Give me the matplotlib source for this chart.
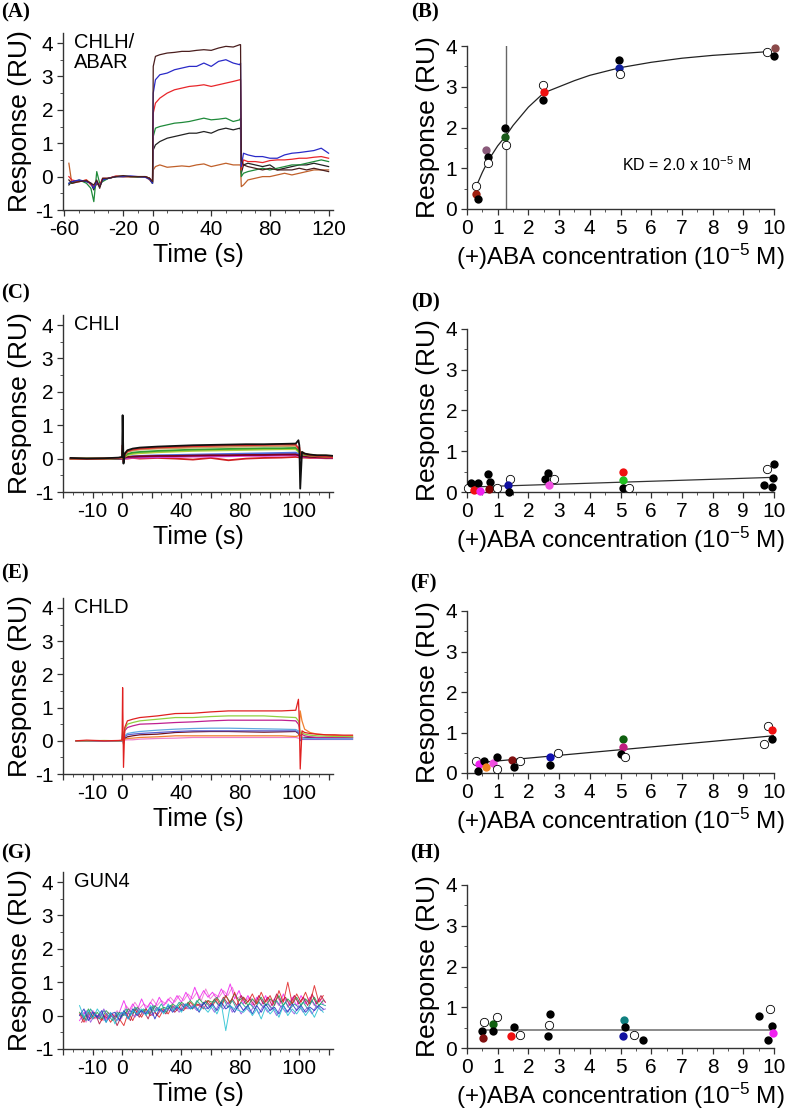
import numpy as np
import matplotlib
matplotlib.use("Agg")
import matplotlib.pyplot as plt
from matplotlib.ticker import FixedLocator, MultipleLocator

plt.rcParams['font.family'] = ['Liberation Sans', 'DejaVu Sans']
plt.rcParams['axes.unicode_minus'] = False
plt.rcParams['mathtext.fontset'] = 'custom'
plt.rcParams['mathtext.rm'] = 'Liberation Sans'
plt.rcParams['mathtext.it'] = 'Liberation Sans:italic'
plt.rcParams['mathtext.bf'] = 'Liberation Sans:bold'

# ---------------- Sensorgrams (left column) ----------------
# (A) CHLH/ABAR
tA = [-57, -55, -50, -45, -42, -40, -38, -36, -34, -30, -25, -20, -15, -10, -5, -2, 0,
      0.5, 2, 5, 10, 15, 20, 25, 30, 35, 40, 45, 50, 55, 59.5, 60,
      60.5, 62, 65, 70, 75, 80, 85, 90, 95, 100, 105, 110, 115, 120]
A_brown = [-0.1, -0.2, -0.15, -0.12, -0.2, -0.25, -0.1, -0.35, -0.05, -0.05, 0.0, 0.03, 0.0, 0.0, 0.0, -0.05, -0.15,
           3.3, 3.6, 3.65, 3.7, 3.72, 3.75, 3.75, 3.78, 3.8, 3.78, 3.85, 3.9, 3.88, 3.95, 3.95,
           0.5, 0.35, 0.3, 0.25, 0.2, 0.25, 0.2, 0.2, 0.2, 0.25, 0.2, 0.25, 0.2, 0.15]
A_blue = [-0.2, -0.15, -0.1, -0.15, -0.2, -0.35, -0.15, -0.3, -0.1, -0.05, 0.0, 0.0, 0.02, 0.0, -0.02, -0.08, -0.2,
          2.5, 2.9, 3.05, 3.1, 3.2, 3.25, 3.3, 3.3, 3.4, 3.3, 3.45, 3.5, 3.4, 3.35, 3.4,
          0.3, 0.7, 0.65, 0.6, 0.6, 0.55, 0.55, 0.65, 0.7, 0.72, 0.75, 0.78, 0.85, 0.7]
A_red = [0.0, -0.1, -0.15, -0.1, -0.25, -0.3, -0.2, -0.25, -0.05, -0.05, 0.02, 0.0, 0.0, 0.0, 0.0, -0.05, -0.15,
         1.9, 2.2, 2.35, 2.5, 2.6, 2.65, 2.7, 2.72, 2.75, 2.7, 2.75, 2.8, 2.85, 2.9, 2.9,
         0.2, 0.5, 0.45, 0.45, 0.42, 0.48, 0.5, 0.5, 0.52, 0.55, 0.55, 0.58, 0.6, 0.55]
A_green = [-0.2, -0.2, -0.1, -0.2, -0.35, -0.75, 0.15, -0.2, -0.15, -0.05, 0.0, 0.02, 0.0, -0.02, 0.0, -0.05, -0.2,
           1.2, 1.45, 1.5, 1.55, 1.6, 1.62, 1.65, 1.7, 1.75, 1.7, 1.72, 1.75, 1.65, 1.7, 1.75,
           0.0, 0.1, 0.15, 0.2, 0.25, 0.2, 0.25, 0.3, 0.35, 0.35, 0.4, 0.45, 0.5, 0.45]
A_black = [-0.25, -0.15, -0.12, -0.15, -0.2, -0.4, -0.2, -0.3, -0.1, -0.05, 0.0, 0.0, 0.0, 0.0, 0.0, -0.05, -0.2,
           0.8, 0.95, 1.05, 1.15, 1.2, 1.25, 1.3, 1.3, 1.35, 1.3, 1.4, 1.45, 1.4, 1.45, 1.4,
           0.1, 0.35, 0.4, 0.35, 0.3, 0.35, 0.2, 0.25, 0.3, 0.35, 0.35, 0.4, 0.35, 0.3]
A_orange = [0.4, -0.2, -0.15, -0.1, -0.2, -0.3, -0.15, -0.25, -0.1, -0.05, 0.0, 0.0, 0.0, 0.0, 0.0, -0.1, -0.2,
            0.2, 0.3, 0.35, 0.28, 0.3, 0.32, 0.3, 0.35, 0.38, 0.3, 0.35, 0.4, 0.35, 0.35, 0.35,
            -0.3, -0.25, -0.1, -0.05, 0.0, 0.0, 0.05, 0.1, 0.05, 0.1, 0.15, 0.2, 0.2, 0.2]
A_traces = [(A_orange, '#c0602a'), (A_black, '#222222'), (A_green, '#1f8a3a'),
            (A_red, '#e8262a'), (A_blue, '#2a2ac8'), (A_brown, '#4a1e1e')]

# (C) CHLI
tC = [-29, -20, -10, -2, 0, 0.3, 0.8, 1.5, 3, 6, 10, 20, 30, 40, 50, 60, 70, 80, 90, 98,
      99.5, 100, 100.5, 101.5, 103, 106, 110, 115, 119.5]
C_black = [0.02, 0.0, 0.01, 0.03, 0.05, 1.3, -0.15, 0.15, 0.25, 0.3, 0.33, 0.36, 0.38, 0.4, 0.41, 0.42, 0.43, 0.43, 0.44, 0.45,
           0.55, 0.4, -0.9, 0.2, 0.15, 0.12, 0.1, 0.1, 0.08]
C_red = [0.0, -0.01, 0.0, 0.02, 0.03, 0.4, -0.1, 0.12, 0.22, 0.27, 0.3, 0.33, 0.35, 0.37, 0.38, 0.4, 0.4, 0.41, 0.42, 0.42,
         0.3, 0.35, 0.1, 0.18, 0.14, 0.1, 0.08, 0.06, 0.04]
C_tan = [0.01, 0.0, 0.0, 0.02, 0.03, 0.3, 0.0, 0.1, 0.2, 0.24, 0.27, 0.3, 0.31, 0.33, 0.34, 0.35, 0.36, 0.37, 0.37, 0.38,
         0.3, 0.3, 0.15, 0.2, 0.15, 0.12, 0.1, 0.09, 0.08]
C_green = [0.0, 0.0, 0.0, 0.01, 0.02, 0.25, 0.0, 0.08, 0.14, 0.18, 0.2, 0.23, 0.25, 0.27, 0.28, 0.29, 0.3, 0.31, 0.31, 0.32,
           0.25, 0.25, 0.12, 0.16, 0.12, 0.1, 0.08, 0.07, 0.06]
C_lime = [0.0, 0.0, 0.0, 0.01, 0.02, 0.2, 0.0, 0.06, 0.1, 0.14, 0.16, 0.19, 0.21, 0.23, 0.24, 0.25, 0.26, 0.27, 0.28, 0.28,
          0.2, 0.22, 0.1, 0.14, 0.11, 0.09, 0.07, 0.06, 0.05]
C_blue = [0.0, -0.01, 0.0, 0.0, 0.01, 0.15, -0.05, 0.03, 0.05, 0.07, 0.08, 0.1, 0.11, 0.12, 0.13, 0.14, 0.15, 0.16, 0.17, 0.18,
          0.15, 0.15, 0.05, 0.1, 0.09, 0.07, 0.06, 0.05, 0.05]
C_purple = [0.0, 0.0, -0.01, 0.0, 0.0, 0.1, -0.05, 0.02, 0.04, 0.05, 0.06, 0.07, 0.08, 0.09, 0.1, 0.1, 0.11, 0.12, 0.13, 0.14,
            0.12, 0.12, 0.03, 0.08, 0.07, 0.06, 0.05, 0.04, 0.04]
C_magenta = [0.0, 0.0, 0.0, 0.0, 0.0, 0.08, -0.05, 0.0, 0.02, 0.03, 0.03, 0.04, 0.05, 0.06, 0.06, 0.07, 0.08, 0.08, 0.09, 0.1,
             0.08, 0.08, 0.0, 0.05, 0.05, 0.04, 0.03, 0.03, 0.02]
C_darkred = [0.0, 0.0, 0.0, 0.0, 0.01, 0.1, -0.02, 0.03, 0.05, 0.06, 0.07, 0.08, 0.08, 0.09, 0.1, 0.1, 0.11, 0.11, 0.12, 0.12,
             0.1, 0.1, 0.02, 0.07, 0.06, 0.05, 0.04, 0.03, 0.03]
C_red2 = [0.0, 0.0, 0.0, 0.0, 0.0, 0.05, -0.03, 0.0, 0.0, 0.02, 0.0, 0.02, 0.0, -0.03, 0.02, -0.05, 0.0, 0.02, 0.03, 0.05,
          0.04, 0.04, 0.0, 0.03, 0.03, 0.02, 0.02, 0.01, 0.01]
C_traces = [(C_red2, '#d02020'), (C_magenta, '#e040e0'), (C_purple, '#7030a0'), (C_blue, '#5070e0'),
            (C_darkred, '#800020'), (C_lime, '#b0d040'), (C_green, '#30a030'), (C_tan, '#c8a060'),
            (C_red, '#e03030'), (C_black, '#111111')]

# (E) CHLD
tE = [-26, -20, -10, -2, 0, 0.3, 0.8, 1.5, 3, 6, 10, 20, 30, 40, 50, 60, 70, 80, 90, 98,
      99.5, 100, 100.5, 101.5, 103, 106, 110, 115, 120, 125, 130]
E_red = [0.0, 0.02, 0.0, 0.01, 0.02, 1.6, -0.8, 0.4, 0.6, 0.65, 0.7, 0.75, 0.82, 0.83, 0.87, 0.9, 0.9, 0.9, 0.9, 0.92,
         1.25, 0.6, -0.85, 0.3, 0.25, 0.22, 0.2, 0.18, 0.18, 0.17, 0.17]
E_green = [0.0, 0.0, 0.01, 0.0, 0.01, 0.3, -0.1, 0.35, 0.5, 0.55, 0.6, 0.65, 0.7, 0.7, 0.73, 0.75, 0.75, 0.75, 0.72, 0.7,
           0.6, 0.5, 0.2, 0.25, 0.2, 0.17, 0.15, 0.14, 0.13, 0.13, 0.12]
E_magenta = [0.0, 0.0, 0.0, 0.0, 0.01, 0.25, -0.1, 0.3, 0.4, 0.45, 0.5, 0.52, 0.55, 0.57, 0.6, 0.62, 0.62, 0.62, 0.62, 0.6,
             0.5, 0.4, 0.15, 0.2, 0.15, 0.12, 0.1, 0.1, 0.1, 0.1, 0.1]
E_lblue = [0.0, 0.0, 0.0, 0.0, 0.0, 0.2, -0.05, 0.15, 0.22, 0.25, 0.28, 0.32, 0.35, 0.37, 0.38, 0.38, 0.37, 0.36, 0.35, 0.34,
           0.3, 0.25, 0.05, 0.1, 0.08, 0.07, 0.07, 0.06, 0.06, 0.06, 0.06]
E_blue = [0.0, 0.0, 0.0, 0.0, 0.0, 0.15, -0.05, 0.12, 0.18, 0.2, 0.22, 0.25, 0.28, 0.3, 0.3, 0.3, 0.3, 0.3, 0.3, 0.3,
          0.25, 0.2, 0.0, 0.05, 0.05, 0.05, 0.05, 0.05, 0.05, 0.05, 0.05]
E_darkred = [0.0, 0.0, 0.0, 0.0, 0.0, 0.1, -0.05, 0.08, 0.12, 0.15, 0.18, 0.2, 0.25, 0.27, 0.28, 0.28, 0.27, 0.26, 0.27, 0.28,
             0.22, 0.2, 0.05, 0.1, 0.1, 0.1, 0.1, 0.1, 0.1, 0.1, 0.1]
E_orange = [0.0, 0.0, 0.0, 0.0, 0.0, 0.1, 0.0, 0.05, 0.07, 0.08, 0.1, 0.12, 0.15, 0.15, 0.15, 0.15, 0.15, 0.15, 0.15, 0.13,
            0.15, 0.3, 0.9, 0.6, 0.35, 0.25, 0.2, 0.18, 0.16, 0.15, 0.15]
E_pink = [0.0, 0.0, 0.0, 0.0, 0.0, 0.05, 0.0, 0.02, 0.03, 0.03, 0.05, 0.07, 0.08, 0.1, 0.1, 0.1, 0.1, 0.1, 0.1, 0.1,
          0.08, 0.07, 0.02, 0.04, 0.04, 0.04, 0.04, 0.04, 0.04, 0.04, 0.04]
E_traces = [(E_pink, '#f080c8'), (E_orange, '#f08030'), (E_darkred, '#701020'), (E_blue, '#6060d0'),
            (E_lblue, '#60a8e0'), (E_magenta, '#c02090'), (E_green, '#90d040'), (E_red, '#e02020')]

# (G) GUN4 - two sets of sampling times
tG = [-24, -21.5, -19, -16.5, -14, -11.5, -9, -6.5, -4, -1.5,
      1, 3.5, 6, 8.5, 11, 13.5, 16, 18.5, 21, 23.5,
      26, 28.5, 31, 33.5, 36, 38.5, 41, 43.5, 46, 48.5,
      51, 53.5, 56, 58.5, 61, 63.5, 66, 68.5, 71, 73.5,
      76, 78.5, 81, 83.5, 86, 88.5, 91, 93.5, 96, 98.5,
      101, 103.5, 106, 108.5, 111, 113.5]
tG2 = [-22.8, -20.3, -17.8, -15.3, -12.8, -10.3, -7.8, -5.3, -2.8, -0.3,
       2.2, 4.7, 7.2, 9.7, 12.2, 14.7, 17.2, 19.7, 22.2, 24.7,
       27.2, 29.7, 32.2, 34.7, 37.2, 39.7, 42.2, 44.7, 47.2, 49.7,
       52.2, 54.7, 57.2, 59.7, 62.2, 64.7, 67.2, 69.7, 72.2, 74.7,
       77.2, 79.7, 82.2, 84.7, 87.2, 89.7, 92.2, 94.7, 97.2, 99.7,
       102.2, 104.7, 107.2, 109.7, 112.2, 114.7]
G_magenta = [-0.15, 0.1, -0.05, 0.15, -0.1, 0.05, -0.12, 0.08, -0.05, 0.1,
             0.45, 0.1, 0.35, 0.15, 0.5, 0.2, 0.4, 0.25, 0.55, 0.3,
             0.5, 0.35, 0.6, 0.4, 0.7, 0.45, 0.85, 0.5, 0.75, 0.55,
             0.7, 0.5, 0.8, 0.55, 0.95, 0.5, 0.75, 0.35, 0.6, 0.3,
             0.55, 0.3, 0.6, 0.25, 0.5, 0.3, 0.65, 0.25, 0.55, 0.3,
             0.6, 0.35, 0.55, 0.3, 0.5, 0.35]
G_red = [0.05, -0.2, 0.1, -0.1, 0.0, -0.15, 0.05, -0.2, 0.0, -0.1,
         -0.3, 0.1, -0.15, 0.15, -0.05, 0.2, 0.0, 0.1, -0.05, 0.2,
         0.05, 0.3, 0.15, 0.35, 0.2, 0.4, 0.25, 0.35, 0.2, 0.45,
         0.3, 0.5, 0.25, 0.6, 0.35, 0.7, 0.3, 0.55, 0.4, 0.65,
         0.35, 0.7, 0.4, 0.6, 0.3, 0.75, 0.4, 1.0, 0.35, 0.65,
         0.4, 0.7, 0.35, 0.9, 0.4, 0.6]
G_green = [0.1, -0.1, 0.2, -0.05, 0.1, -0.1, 0.15, 0.0, -0.1, 0.1,
           0.0, 0.2, 0.05, 0.25, 0.1, 0.2, 0.05, 0.3, 0.15, 0.25,
           0.2, 0.35, 0.25, 0.4, 0.3, 0.45, 0.3, 0.5, 0.35, 0.45,
           0.4, 0.55, 0.35, 0.6, 0.4, 0.65, 0.45, 0.55, 0.3, 0.5,
           0.35, 0.55, 0.3, 0.5, 0.4, 0.6, 0.3, 0.5, 0.35, 0.55,
           0.3, 0.5, 0.35, 0.55, 0.3, 0.45]
G_blue = [0.0, 0.2, -0.15, 0.1, -0.05, 0.15, -0.2, 0.05, 0.1, -0.15,
          0.15, -0.1, 0.2, 0.0, 0.15, 0.05, 0.25, -0.1, 0.2, 0.1,
          0.3, 0.1, 0.25, 0.15, 0.35, 0.2, 0.3, 0.1, 0.4, 0.2,
          0.35, 0.15, 0.4, 0.2, 0.3, 0.1, 0.35, 0.15, 0.3, 0.05,
          0.3, 0.1, 0.35, 0.15, 0.25, 0.05, 0.3, 0.1, 0.35, 0.15,
          0.3, 0.1, 0.25, 0.15, 0.3, 0.2]
G_cyan = [0.3, -0.05, 0.15, -0.1, 0.2, 0.0, -0.2, 0.1, -0.25, 0.05,
          0.1, -0.1, 0.15, 0.05, 0.2, 0.0, 0.3, 0.1, 0.25, 0.05,
          0.35, 0.15, 0.3, 0.1, 0.35, 0.2, 0.3, 0.15, 0.25, 0.1,
          0.3, 0.05, 0.35, -0.45, 0.3, 0.2, 0.15, 0.1, 0.25, 0.0,
          0.2, -0.1, 0.25, 0.05, 0.2, -0.05, 0.3, 0.0, 0.2, 0.05,
          0.25, 0.0, 0.2, -0.05, 0.25, 0.1]
G_purple = [-0.1, 0.15, -0.2, 0.05, -0.05, 0.2, -0.1, 0.0, -0.15, 0.1,
            0.0, 0.15, -0.05, 0.2, 0.05, 0.15, 0.0, 0.25, 0.1, 0.2,
            0.15, 0.3, 0.1, 0.35, 0.2, 0.3, 0.15, 0.35, 0.2, 0.3,
            0.1, 0.35, 0.2, 0.4, 0.1, 0.3, 0.05, 0.25, 0.1, 0.3,
            0.05, 0.3, 0.1, 0.25, 0.0, 0.3, 0.1, 0.2, 0.05, 0.3,
            0.1, 0.25, 0.05, 0.3, 0.15, 0.2]
G_darkred = [-0.2, 0.05, -0.1, 0.1, -0.25, 0.0, -0.1, 0.05, -0.3, 0.0,
             0.1, -0.15, 0.2, -0.05, 0.15, -0.1, 0.25, 0.0, 0.2, 0.05,
             0.3, 0.1, 0.25, 0.15, 0.4, 0.2, 0.35, 0.25, 0.45, 0.3,
             0.5, 0.3, 0.55, 0.35, 0.5, 0.3, 0.6, 0.35, 0.5, 0.3,
             0.6, 0.35, 0.55, 0.3, 0.65, 0.4, 0.55, 0.3, 0.6, 0.35,
             0.55, 0.3, 0.65, 0.35, 0.6, 0.4]
G_teal = [0.05, -0.15, 0.2, 0.0, -0.1, 0.15, 0.0, -0.15, 0.1, -0.05,
          0.2, 0.0, 0.25, 0.1, 0.2, 0.05, 0.3, 0.15, 0.35, 0.1,
          0.3, 0.2, 0.4, 0.25, 0.35, 0.2, 0.45, 0.3, 0.4, 0.25,
          0.45, 0.3, 0.5, 0.25, 0.45, 0.2, 0.4, 0.25, 0.35, 0.2,
          0.4, 0.25, 0.35, 0.2, 0.45, 0.25, 0.4, 0.2, 0.35, 0.25,
          0.4, 0.2, 0.45, 0.25, 0.35, 0.3]
G_pink = [0.0, -0.2, 0.1, -0.1, 0.05, -0.15, 0.1, -0.05, 0.15, -0.1,
          0.3, 0.15, 0.4, 0.2, 0.35, 0.25, 0.5, 0.3, 0.45, 0.35,
          0.55, 0.4, 0.6, 0.45, 0.65, 0.5, 0.7, 0.45, 0.8, 0.5,
          0.65, 0.55, 0.75, 0.6, 0.85, 0.5, 0.6, 0.45, 0.55, 0.4,
          0.6, 0.35, 0.55, 0.4, 0.6, 0.35, 0.5, 0.4, 0.6, 0.35,
          0.55, 0.4, 0.6, 0.35, 0.5, 0.4]
G_traces = [(tG2, G_pink, '#f070d0'), (tG, G_magenta, '#f020f0'), (tG2, G_darkred, '#b01040'),
            (tG, G_green, '#20a040'), (tG, G_red, '#e02020'), (tG2, G_teal, '#10a090'),
            (tG2, G_purple, '#9050e0'), (tG, G_blue, '#2030c0'), (tG, G_cyan, '#20c0d0')]

# ---------------- Dose response (right column) ----------------
# each point: (conc, response, colour)  colour None = open circle
B_pts = [(0.28, 0.57, None), (0.28, 0.38, '#a02010'), (0.35, 0.24, 'k'),
         (0.63, 1.44, '#8a5a7a'), (0.69, 1.28, 'k'), (0.69, 1.12, None),
         (1.23, 2.0, 'k'), (1.25, 1.77, '#1a5a1a'), (1.27, 1.58, None),
         (2.48, 3.05, None), (2.51, 2.87, '#f01010'), (2.48, 2.67, 'k'),
         (4.96, 3.65, 'k'), (4.95, 3.47, '#1020a0'), (4.97, 3.31, None),
         (9.78, 3.85, None), (10.02, 3.96, '#8b4a4a'), (10.0, 3.75, 'k')]
B_fit_x = [0.28, 0.5, 0.7, 1.0, 1.27, 1.5, 2.0, 2.5, 3.0, 3.5, 4.0, 5.0, 6.0, 7.0, 8.0, 9.0, 9.78]
B_fit_y = [0.52, 0.9, 1.2, 1.55, 1.8, 2.05, 2.5, 2.85, 3.0, 3.15, 3.28, 3.47, 3.6, 3.7, 3.77, 3.82, 3.86]
B_vline = 1.28

D_pts = [(0.02, 0.11, None), (0.13, 0.21, 'k'), (0.22, 0.04, '#f01010'), (0.35, 0.21, 'k'),
         (0.43, 0.02, '#f020f0'), (0.68, 0.43, 'k'), (0.76, 0.25, 'k'), (0.73, 0.07, '#800000'),
         (0.98, 0.11, None), (1.41, 0.32, None), (1.35, 0.16, '#1010a0'), (1.37, -0.01, 'k'),
         (2.63, 0.47, 'k'), (2.55, 0.31, 'k'), (2.82, 0.31, None), (2.66, 0.16, '#f050e0'),
         (5.08, 0.49, '#f01010'), (5.08, 0.3, '#20c020'), (5.07, 0.11, 'k'), (5.29, 0.11, None),
         (9.78, 0.56, None), (10.0, 0.68, 'k'), (9.98, 0.34, 'k'), (9.67, 0.16, 'k'), (9.95, 0.12, 'k')]
D_fit_x = [0.02, 10.0]
D_fit_y = [0.12, 0.36]

F_pts = [(0.3, 0.3, None), (0.39, 0.21, '#f020f0'), (0.36, 0.05, 'k'), (0.57, 0.3, 'k'),
         (0.62, 0.15, '#f08020'), (0.84, 0.24, '#f050e0'), (0.97, 0.39, 'k'), (0.99, 0.1, None),
         (1.47, 0.33, '#801010'), (1.52, 0.15, 'k'), (1.72, 0.3, None), (2.7, 0.39, '#1010b0'),
         (2.7, 0.19, 'k'), (2.96, 0.5, None), (5.07, 0.83, '#106010'), (5.07, 0.63, '#c02080'),
         (5.0, 0.48, 'k'), (5.16, 0.4, None), (9.82, 1.17, None), (9.92, 1.06, '#f01010'),
         (9.95, 0.85, 'k'), (9.66, 0.71, None)]
F_fit_x = [0.3, 10.0]
F_fit_y = [0.25, 0.92]

H_pts = [(0.55, 0.65, None), (0.49, 0.41, 'k'), (0.53, 0.24, '#801010'), (0.84, 0.6, '#106010'),
         (0.99, 0.77, None), (0.85, 0.41, 'k'), (1.52, 0.52, 'k'), (1.42, 0.29, '#f01010'),
         (1.72, 0.32, None), (2.7, 0.83, 'k'), (2.66, 0.56, None), (2.64, 0.3, 'k'),
         (5.1, 0.69, '#108080'), (5.15, 0.52, 'k'), (5.09, 0.29, '#1010a0'), (5.45, 0.31, None),
         (5.74, 0.2, 'k'), (9.52, 0.79, 'k'), (9.86, 0.96, None), (9.93, 0.53, 'k'),
         (9.8, 0.2, 'k'), (9.98, 0.36, '#f020f0')]
H_fit_x = [0.5, 10.0]
H_fit_y = [0.45, 0.45]

W, H = 787, 1117
fig = plt.figure(figsize=(W / 100, H / 100), dpi=100)


def px_axes(left, top, right, bottom):
    return fig.add_axes([left / W, 1 - bottom / H, (right - left) / W, (bottom - top) / H])


def style(ax):
    for s in ['top', 'right']:
        ax.spines[s].set_visible(False)
    for s in ['left', 'bottom']:
        ax.spines[s].set_color('#333333')
        ax.spines[s].set_linewidth(1.0)
    ax.tick_params(which='major', direction='out', length=4, width=0.9, labelsize=15,
                   colors='#333333', labelcolor='black', pad=3)
    ax.tick_params(which='minor', direction='out', length=2.5, width=0.7, colors='#555555')
    ax.patch.set_alpha(0)


def sensor_axes(top, bottom, name):
    ax = px_axes(63, top, 333, bottom)
    style(ax)
    ax.set_ylim(-1, 4.3)
    ax.set_yticks([-1, 0, 1, 2, 3, 4])
    ax.yaxis.set_minor_locator(MultipleLocator(0.5))
    ax.set_ylabel('Response (RU)', fontsize=19, labelpad=2)
    ax.set_xlabel('Time (s)', fontsize=18, labelpad=3)
    ax.text(0.04, 1.0, name, transform=ax.transAxes, fontsize=14.5, va='top', ha='left',
            linespacing=1.05)
    return ax


def odd_time_axis(ax):
    # tick marks evenly spaced (100/6 s) but labelled as in the original figure
    step = 100 / 6
    pos = [k * step for k in range(-2, 8)]
    labs = {-1: '-10', 0: '0', 2: '40', 4: '80', 6: '100'}
    ax.xaxis.set_major_locator(FixedLocator(pos))
    ax.set_xticklabels([labs.get(k, '') for k in range(-2, 8)])
    ax.xaxis.set_minor_locator(MultipleLocator(step / 3))
    ax.set_xlim(-100 / 3, 119)


# (A)
axA = sensor_axes(33, 210, 'CHLH/\nABAR')
for vals, c in A_traces:
    axA.plot(tA, vals, color=c, lw=0.9)
axA.set_xlim(-61, 123)
axA.set_xticks([-60, -20, 0, 40, 80, 120])
axA.xaxis.set_minor_locator(MultipleLocator(10))

# (C)
axC = sensor_axes(315, 492, 'CHLI')
for vals, c in C_traces:
    axC.plot(tC, vals, color=c, lw=1.3)
odd_time_axis(axC)

# (E)
axE = sensor_axes(598, 774, 'CHLD')
for vals, c in E_traces:
    axE.plot(tE, vals, color=c, lw=0.9, clip_on=False)
odd_time_axis(axE)

# (G)
axG = sensor_axes(872, 1049, 'GUN4')
for tt, vals, c in G_traces:
    axG.plot(tt, vals, color=c, lw=0.7, alpha=0.85)
odd_time_axis(axG)


def dose_axes(top, bottom):
    ax = px_axes(467, top, 774, bottom)
    style(ax)
    ax.set_xlim(0, 10)
    ax.set_ylim(0, 4)
    ax.set_xticks(range(0, 11))
    ax.xaxis.set_minor_locator(MultipleLocator(0.5))
    ax.set_yticks([0, 1, 2, 3, 4])
    ax.yaxis.set_minor_locator(MultipleLocator(0.5))
    ax.set_ylabel('Response (RU)', fontsize=19, labelpad=4)
    ax.set_xlabel('(+)ABA concentration (10$^{-5}$ M)', fontsize=17.5, labelpad=3)
    return ax


def draw_points(ax, pts):
    for x, y, c in pts:
        if c is None:
            ax.scatter(x, y, s=36, facecolor='white', edgecolor='black', linewidth=0.6,
                       zorder=3, clip_on=False)
        else:
            ax.scatter(x, y, s=36, color=c, linewidth=0, zorder=3, clip_on=False)


axB = dose_axes(46, 209)
axB.axvline(B_vline, ymin=0, ymax=1, color='#666666', lw=1.0)
axB.plot(B_fit_x, B_fit_y, color='#222222', lw=0.9)
draw_points(axB, B_pts)
axB.text(5.05, 1.1, 'KD = 2.0 x 10$^{-5}$ M', fontsize=11.5, va='center')

axD = dose_axes(329, 492)
axD.plot(D_fit_x, D_fit_y, color='#333333', lw=0.9)
draw_points(axD, D_pts)

axF = dose_axes(611, 773)
axF.plot(F_fit_x, F_fit_y, color='#222222', lw=0.9)
draw_points(axF, F_pts)

axH = dose_axes(885, 1048)
axH.plot(H_fit_x, H_fit_y, color='#777777', lw=1.2)
draw_points(axH, H_pts)

# panel letters
letters = [('(A)', 1, 2), ('(B)', 411, 2), ('(C)', 1, 283), ('(D)', 411, 292),
           ('(E)', 1, 563), ('(F)', 410, 573), ('(G)', 1, 843), ('(H)', 410, 843)]
for txt, x, y in letters:
    fig.text(x / W, 1 - y / H, txt, fontsize=15, fontweight='bold',
             family=['Liberation Serif', 'DejaVu Serif'], va='top', ha='left')

fig.savefig('out.png', dpi=100)
